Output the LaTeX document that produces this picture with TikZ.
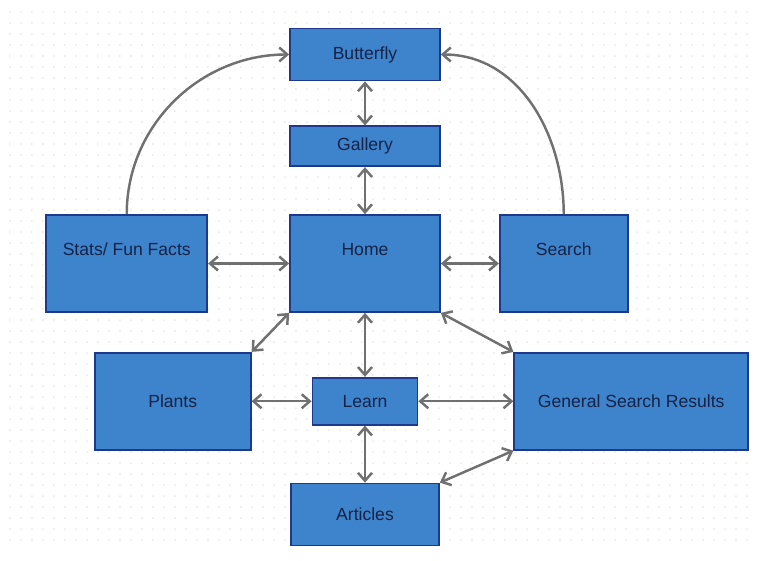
\documentclass[tikz,border=0pt]{standalone}
\usepackage{fontspec}
\setmainfont{Liberation Sans}
\usepackage{xcolor}
\usepackage{tikz}
\usetikzlibrary{arrows.meta,positioning}
\definecolor{boxfill}{RGB}{62,132,204}
\definecolor{boxline}{RGB}{30,56,140}
\definecolor{boxtext}{RGB}{22,34,70}
\definecolor{arrgray}{RGB}{112,112,112}
\definecolor{dotgray}{RGB}{232,232,232}

\begin{document}
\begin{tikzpicture}[
  n/.style={draw=boxline, fill=boxfill, line width=1pt, text=boxtext, minimum width=3cm, align=center},
  hi/.style={minimum height=1.94cm, text height=8pt, text depth=17pt},
  arr/.style={{Straight Barb[length=1.6mm,width=2.8mm]}-{Straight Barb[length=1.6mm,width=2.8mm]}, draw=arrgray, line width=1.4pt},
  one/.style={-{Straight Barb[length=1.6mm,width=2.8mm]}, draw=arrgray, line width=1.4pt}
]
\useasboundingbox (-7.3,-5.95) rectangle (7.84,5.27);
\foreach \i in {0,...,67}
  \foreach \j in {0,...,48}
    \fill[dotgray] (-7.1+\i*0.22,5.03-\j*0.22) circle (0.02);

\node[n, hi] (home) {Home};
\node[n, minimum height=0.8cm, above=0.94cm of home] (gallery) {Gallery};
\node[n, minimum height=1.04cm, above=0.88cm of gallery] (butterfly) {Butterfly};
\node[n, hi, minimum width=3.22cm, left=1.62cm of home] (stats) {Stats/ Fun Facts};
\node[n, hi, minimum width=2.56cm, right=1.16cm of home] (search) {Search};
\node[n, minimum width=2.1cm, minimum height=0.94cm, below=1.28cm of home] (learn) {Learn};
\node[n, minimum width=2.96cm, minimum height=1.24cm, below=1.14cm of learn] (articles) {Articles};
\node[n, minimum width=3.12cm, minimum height=1.94cm, left=1.2cm of learn] (plants) {Plants};
\node[n, minimum width=4.68cm, minimum height=1.94cm, right=1.9cm of learn] (results) {General Search Results};

\draw[arr] (butterfly) -- (gallery);
\draw[arr] (gallery) -- (home);
\draw[arr] (stats) -- (home);
\draw[arr] (home) -- (search);
\draw[one] (stats.north) to[out=90, in=180] (butterfly.west);
\draw[one] (search.north) to[out=90, in=0] (butterfly.east);
\draw[arr] (home.south west) -- (plants.north east);
\draw[arr] (home) -- (learn);
\draw[arr] (home.south east) -- (results.north west);
\draw[arr] (plants) -- (learn);
\draw[arr] (learn) -- (results);
\draw[arr] (learn) -- (articles);
\draw[arr] (articles.north east) -- (results.south west);
\end{tikzpicture}
\end{document}
